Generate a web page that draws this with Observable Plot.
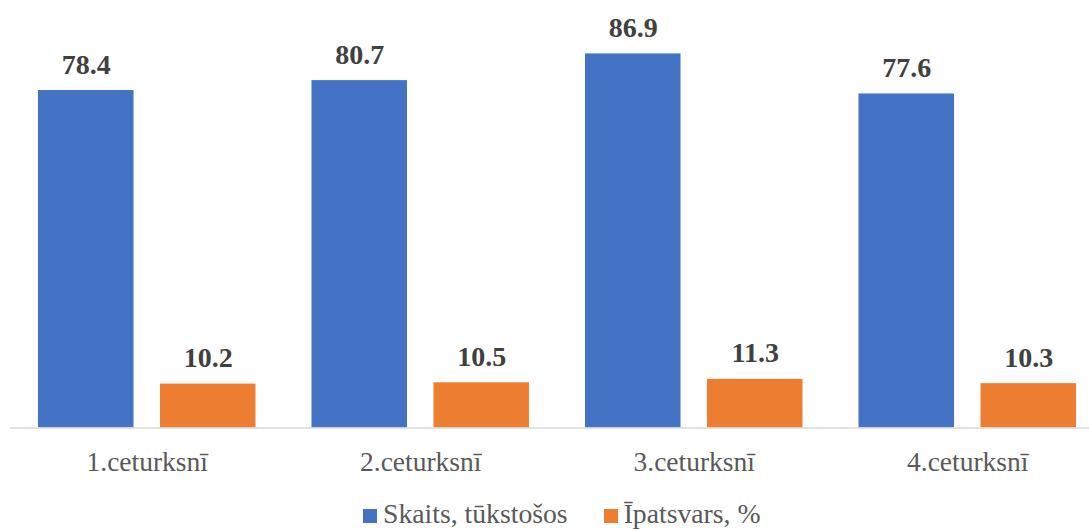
<!DOCTYPE html>
<html>
<head>
<meta charset="utf-8">
<script src="https://cdn.jsdelivr.net/npm/d3@7"></script>
<script src="https://cdn.jsdelivr.net/npm/@observablehq/plot@0.6"></script>
<style>
  html, body { margin: 0; padding: 0; background: #fff; }
  #chart svg { display: block; }
  #legend { height: 40px; box-sizing: border-box; padding-top: 10px; padding-left: 363px;
    font-family: "Liberation Serif", "Times New Roman", serif; font-size: 27.7px; line-height: 27px;
    color: #595959; white-space: nowrap; }
  .item { display: inline-block; }
  .sw { display: inline-block; width: 14px; height: 14px; margin-right: 6px; vertical-align: baseline; }
</style>
</head>
<body>
<div id="chart"></div>
<div id="legend"></div>
<script>
const categories = ["1.ceturksnī", "2.ceturksnī", "3.ceturksnī", "4.ceturksnī"];
const seriesNames = ["Skaits, tūkstošos", "Īpatsvars, %"];
const skaits = [78.4, 80.7, 86.9, 77.6];
const ipatsvars = [10.2, 10.5, 11.3, 10.3];
const colors = ["#4472C4", "#ED7D31"];

const rows = [];
categories.forEach((c, i) => {
  rows.push({cat: c, series: seriesNames[0], value: skaits[i]});
  rows.push({cat: c, series: seriesNames[1], value: ipatsvars[i]});
});

const chart = Plot.plot({
  width: 1089,
  height: 490,
  marginTop: 0, marginBottom: 0, marginLeft: 0, marginRight: 0,
  style: {fontFamily: "'Liberation Serif', 'Times New Roman', serif", background: "#fff"},
  fx: {domain: categories, range: [10, 1104], padding: 0, axis: null, round: false},
  x: {domain: seriesNames, range: [28, 245.5], paddingInner: 0.2172, paddingOuter: 0, axis: null, round: false},
  y: {domain: [0, 90], range: [427.5, 40.1], axis: null},
  color: {domain: seriesNames, range: colors},
  marks: [
    Plot.barY(rows, {fx: "cat", x: "series", y: "value", fill: "series"}),
    Plot.ruleY([0], {stroke: "#d9d9d9", strokeWidth: 1.5}),
    Plot.text(rows, {fx: "cat", x: "series", y: "value", text: d => d.value.toFixed(1),
      lineAnchor: "bottom", dy: -17, fontSize: 28, fontWeight: "bold", fill: "#404040"}),
    Plot.text(categories, {fx: d => d, y: () => 0, text: d => d,
      lineAnchor: "bottom", dy: 43, fontSize: 27.5, fill: "#595959"})
  ]
});
document.getElementById("chart").appendChild(chart);

const legend = document.getElementById("legend");
seriesNames.forEach((s, i) => {
  const item = document.createElement("span");
  item.className = "item";
  if (i > 0) item.style.marginLeft = "36px";
  const sw = document.createElement("span");
  sw.className = "sw";
  sw.style.background = colors[i];
  item.appendChild(sw);
  item.appendChild(document.createTextNode(s));
  legend.appendChild(item);
});
</script>
</body>
</html>
